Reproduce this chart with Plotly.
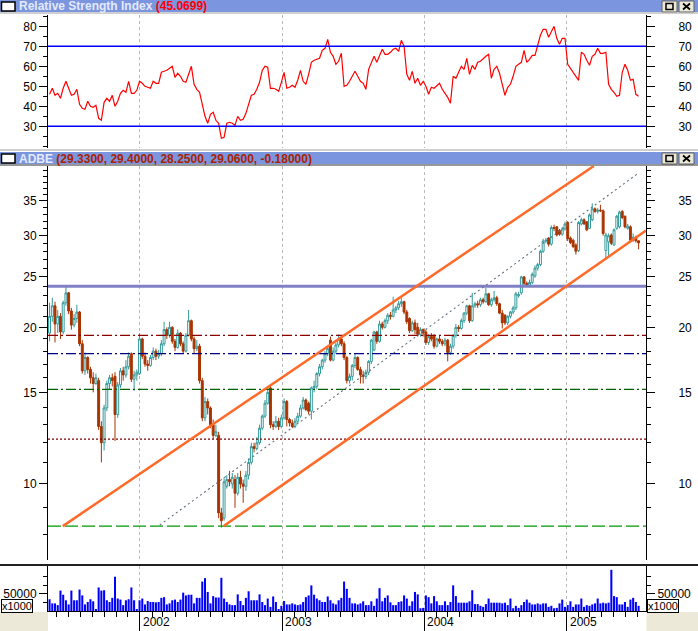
import math
import pandas as pd
import plotly.graph_objects as go

# ---------------- data (weekly ADBE) ----------------
week_start = "2001-05-14"

opens = [19.5,21.0,22.0,20.3,21.0,19.6,22.3,23.3,21.5,20.2,20.8,21.4,18.6,16.5,17.5,16.6,16.0,15.6,15.8,12.9,
         12.0,14.0,15.6,16.0,16.1,13.6,15.5,16.5,16.2,16.8,17.8,15.9,16.2,16.3,19.0,17.6,17.0,16.9,17.5,18.0,
         17.6,17.8,18.6,19.8,19.3,20.0,18.8,18.3,19.5,18.6,18.0,19.3,20.6,19.0,18.2,18.4,15.8,13.4,14.4,14.0,
         13.0,12.4,12.4,8.8,8.6,9.9,10.2,10.0,10.2,9.6,10.3,10.0,9.9,10.4,11.0,11.8,11.7,12.0,12.8,13.5,
         14.3,15.3,13.0,12.9,13.2,12.9,13.4,14.4,13.3,13.1,12.9,13.2,13.5,14.0,14.5,14.3,13.8,15.3,15.4,16.3,
         16.8,17.3,17.8,18.9,17.3,18.0,18.5,19.0,18.6,17.5,15.8,16.1,16.9,17.5,16.6,16.2,16.1,16.4,17.2,18.1,
         19.6,18.8,20.3,20.0,20.6,21.1,21.0,21.6,21.8,22.2,22.4,21.4,20.8,19.7,20.4,20.0,19.4,19.8,19.6,18.7,
         19.2,19.3,18.4,19.0,18.8,18.6,18.9,17.9,18.4,19.3,20.0,19.9,20.6,21.3,22.0,20.6,22.0,22.2,22.1,22.6,
         22.4,23.2,22.1,22.6,22.8,22.2,21.3,21.1,20.4,21.0,21.4,21.8,23.0,23.3,25.0,24.3,24.1,24.4,25.1,26.0,
         26.4,28.0,29.3,29.7,28.9,31.1,31.2,30.7,30.2,30.9,31.8,29.7,29.4,28.8,28.1,31.6,32.2,31.9,31.0,32.2,
         33.8,33.4,33.6,33.5,28.1,29.2,30.1,28.8,31.0,31.2,33.4,32.7,31.0,31.2,29.4,29.8,29.33]
highs = [22.3,22.8,22.4,21.6,21.3,22.5,24.0,23.4,21.8,21.2,22.1,21.5,18.9,17.9,17.6,16.8,16.4,16.3,16.0,13.2,
         14.2,15.8,16.2,16.3,16.4,15.7,16.7,16.8,17.3,17.9,17.9,16.5,16.6,19.5,19.1,17.9,17.3,17.7,18.3,18.2,
         18.1,18.9,20.5,20.0,20.5,20.1,19.0,19.8,19.6,18.8,19.5,21.6,20.7,19.2,18.9,18.6,16.0,14.7,14.6,14.1,
         13.3,13.0,12.6,9.0,10.3,10.4,10.6,10.5,10.4,10.5,10.6,10.2,10.6,11.2,12.0,12.0,12.3,13.0,13.6,14.5,
         15.4,15.4,13.2,13.5,13.4,13.6,14.6,14.5,13.4,13.3,13.4,13.7,14.2,14.7,14.6,14.4,15.4,15.8,16.4,17.0,
         17.4,18.0,18.5,19.2,18.3,18.7,19.4,19.2,18.8,17.6,16.3,17.0,17.8,17.6,16.8,16.5,16.6,17.3,19.0,19.7,
         19.7,20.6,20.5,20.8,21.3,21.4,22.9,22.0,22.5,22.8,22.5,21.6,20.9,20.6,20.7,20.4,20.0,19.9,19.8,19.4,
         19.5,19.4,19.1,19.3,19.0,19.1,19.0,18.6,19.4,20.3,20.2,20.8,21.4,22.1,22.1,23.3,22.4,22.5,22.8,22.8,
         23.8,23.3,22.8,23.5,23.0,22.3,21.6,21.2,21.1,21.5,22.0,23.4,23.4,25.1,25.1,24.5,24.7,25.5,26.3,26.6,
         28.2,29.6,29.7,29.8,31.4,31.5,31.3,30.9,31.2,31.9,32.0,29.9,29.6,29.0,32.0,32.5,32.4,32.0,33.1,34.6,
         34.0,33.9,34.4,33.7,30.4,30.3,30.3,31.0,32.9,33.5,33.6,32.8,31.6,31.4,30.3,30.0,29.40]
lows = [18.8,20.5,18.7,19.5,19.0,19.4,22.0,21.2,19.8,20.0,20.4,18.4,16.3,16.2,16.3,15.6,15.0,15.5,12.7,11.0,
        11.6,13.8,15.2,15.4,12.1,13.4,15.3,15.8,16.0,16.6,15.7,15.1,15.8,16.2,17.4,16.8,16.5,16.8,17.3,17.3,
        17.4,17.6,18.4,19.0,19.1,18.6,18.0,18.2,18.4,17.8,17.9,19.2,18.8,17.8,18.0,15.6,13.2,13.2,13.6,12.8,
        12.2,12.3,8.6,8.25,8.5,9.8,9.9,9.8,9.0,9.5,9.8,9.2,9.7,10.2,10.9,11.5,11.6,11.9,12.7,13.4,
        14.2,12.8,12.7,12.8,12.7,12.8,13.3,12.9,12.9,12.8,12.8,13.1,13.4,13.9,13.8,13.6,13.3,15.0,15.2,16.1,
        16.6,17.1,17.6,17.2,17.2,17.8,18.3,18.4,17.3,15.6,15.6,15.8,16.7,16.5,15.6,15.6,15.9,16.2,17.0,18.0,
        18.6,18.7,19.8,19.9,20.3,20.7,20.9,21.3,21.6,21.9,21.2,20.3,19.5,19.6,19.4,19.2,19.2,19.2,18.5,18.5,
        18.8,18.2,18.3,18.6,18.4,18.4,17.2,17.7,18.2,19.1,19.6,19.8,20.4,21.1,20.4,20.5,21.8,21.8,21.9,22.2,
        22.3,22.0,21.9,22.4,22.0,21.2,19.9,20.2,20.2,20.8,21.2,21.6,22.8,23.1,24.1,23.9,23.9,24.2,24.9,25.7,
        26.2,27.8,29.0,28.6,28.7,30.6,29.9,30.0,30.0,30.7,29.3,28.9,28.4,27.6,27.9,31.4,31.5,30.6,30.9,32.0,
        33.2,33.1,33.3,30.0,27.0,27.4,28.8,28.7,30.8,31.0,32.3,31.0,30.8,29.2,29.2,29.1,28.25]
closes = [21.0,22.0,20.3,21.0,19.6,22.3,23.3,21.5,20.2,20.8,21.4,18.6,16.5,17.5,16.6,16.0,15.6,16.0,12.9,12.0,
          14.0,15.6,16.0,15.8,13.6,15.5,16.5,16.2,16.8,17.6,15.9,16.2,16.4,19.0,17.6,17.0,16.9,17.5,18.0,17.6,
          17.8,18.6,19.8,19.3,20.0,18.8,18.3,19.5,18.6,18.0,19.3,20.6,19.0,18.2,18.4,15.8,13.4,14.4,14.0,13.0,
          12.4,12.6,8.8,8.5,10.1,10.2,10.1,10.3,9.6,10.3,10.0,9.9,10.4,11.0,11.8,11.7,12.0,12.8,13.5,14.3,
          15.0,13.0,12.9,13.2,12.9,13.4,14.4,13.3,13.1,12.9,13.2,13.5,14.0,14.5,13.9,13.8,15.3,15.4,16.3,16.8,
          17.3,17.8,18.2,17.3,18.0,18.5,19.0,18.6,17.5,15.8,16.1,16.9,17.5,16.6,16.2,16.1,16.4,17.2,18.9,19.6,
          18.8,20.3,20.0,20.6,21.1,21.0,21.6,21.8,22.2,22.4,21.4,20.5,19.7,20.4,19.8,19.4,19.8,19.5,18.7,19.2,
          19.0,18.4,19.0,18.8,18.6,18.9,17.9,18.4,19.3,20.0,19.9,20.6,21.3,22.0,20.6,22.0,22.2,22.1,22.6,22.4,
          23.2,22.1,22.6,22.8,22.2,21.3,20.4,20.4,21.0,21.4,21.8,23.2,23.1,25.0,24.3,24.1,24.4,25.3,26.0,26.4,
          28.0,29.3,29.4,28.9,31.1,31.0,30.1,30.2,30.9,31.6,29.6,29.1,28.6,28.0,31.8,32.2,31.6,30.8,32.9,33.8,
          33.4,33.6,33.5,30.3,30.1,30.0,29.0,30.8,32.7,33.3,32.5,31.2,31.3,29.4,29.8,29.33,29.06]

rsi = [46,49,45.5,46.5,44,49,52.5,49,45.5,46,48.5,41,39,38.5,42.5,40,39.5,40.5,34,33,
       42,44,42.5,45.5,40,42.5,46.5,48,47,52.5,46.5,46.5,48,52.5,51.5,50,49.5,49,52.5,51.5,
       51.5,57,57.5,58,59,60,54.5,56.5,55,52.5,52,56,60,51,48.5,47,41,35,31.5,36,
       37,33,31.5,24,24.5,31.5,32,31.5,30.5,35,33,33.5,36.5,41,45.5,46,48.5,52,58,60,
       59.5,49,49,48.5,47.5,52,57,49,49.5,50.5,49.5,53,58,52.5,51,56,62,63,63.5,64,
       68,69,73.5,67,65,61,62.5,66.5,50,50.5,52.5,55,57.5,55,52.5,51.5,48.5,58.5,62,65,
       62,65,68.5,66,66,67,68.5,69,67.5,73,70,56,53,57.5,51.5,54,50.5,52.5,50,46,
       49.5,49,50.5,51.5,48.5,46.5,44.5,41.5,55,54,57,60,58.5,64,56,60.5,58.5,62,62.5,64,
       65,66,54,58.5,60,56.5,51,45.5,49.5,51,55,60,61,62,68,62,63.5,65.5,65.5,70,
       75.5,78.5,78.5,74.5,77,80,74,71,74,74,61,59,57,55.5,53,67,66,63,60.5,65,
       66,69,66.5,66.5,67,51,48.5,47,45,45.5,57,61,58,53,53.5,46,45.07]

volume_k = [34,22,22,17,59,47,31,19,59,31,31,62,45,19,26,34,28,4,68,59,
            60,31,26,38,99,36,33,17,31,34,68,31,3,31,36,19,29,26,26,25,
            26,38,40,19,22,31,33,26,33,53,45,47,47,22,38,38,85,95,55,22,
            43,39,39,96,36,26,19,17,17,48,29,17,38,57,31,31,31,48,26,17,
            36,12,42,26,3,15,29,19,19,22,19,17,19,26,40,45,74,47,36,31,
            26,26,42,31,22,19,31,38,85,64,38,22,22,19,22,28,17,17,28,15,
            36,66,28,38,45,25,17,17,26,28,45,36,15,28,55,48,8,9,45,40,
            22,43,28,17,17,28,17,26,74,43,24,24,24,24,28,60,20,20,15,12,
            20,36,24,24,24,24,22,24,17,36,8,15,9,17,26,33,24,19,19,22,
            19,22,22,12,15,8,9,22,33,12,17,28,12,19,19,36,12,17,15,19,
            22,36,22,24,22,24,119,43,40,19,19,26,12,33,38,26,15]

rsi_title_value = "45.0699"
price_title = "(29.3300, 29.4000, 28.2500, 29.0600, -0.18000)"

x_range = ["2001-05-10", "2005-07-23"]
year_starts = ["2002-01-01", "2003-01-01", "2004-01-01", "2005-01-01"]
year_labels = ["2002", "2003", "2004", "2005"]

rsi_levels = [70, 30]
rsi_range = [19.15, 85.65]
rsi_ticks = [30, 40, 50, 60, 70, 80]
rsi_minor = [20, 25, 35, 45, 55, 65, 75, 85]

price_bounds = [7.144, 40.84]
price_ticks = [10, 15, 20, 25, 30, 35]
price_minor = [8, 9, 11, 12, 13, 14, 16, 17, 18, 19, 21, 22, 23, 24, 26, 27, 28, 29, 31, 32, 33, 34, 36, 37, 38, 39, 40]

vol_range = [0, 130000]
vol_ticks = [50000]
vol_minor = [25000, 75000, 100000]

# horizontal levels: value, colour, dash, width
levels = [
    (24.0, "#7f80c6", "solid", 3),
    (19.3, "#8b0000", "10px,3px,2px,3px", 1.2),
    (17.8, "#000080", "10px,3px,2px,3px", 1.2),
    (15.2, "#006400", "10px,3px,2px,3px", 1.2),
    (12.2, "#800000", "2px,2px", 1.2),
    (8.3, "#009900", "13px,4px", 1.2),
]
upper_channel_dates = ["2001-06-17", "2005-03-11"]
upper_channel_prices = [8.3, 40.84]
lower_channel_dates = ["2002-08-04", "2005-07-23"]
lower_channel_prices = [8.3, 30.7]
mid_line_dates = ["2002-02-21", "2005-06-30"]
mid_line_prices = [8.34, 39.4]

dates = pd.date_range(week_start, periods=len(closes), freq="7D")
volume = [v * 1000 for v in volume_k]

# ---------------- geometry helpers ----------------
W, H = 698, 631
ML, MR, MT, MB = 48, 52, 0, 20
PW, PH = W - ML - MR, H - MT - MB


def px_x(px):
    return (px - ML) / PW


def px_y(py):
    return 1 - (py - MT) / PH


FONT = "Liberation Sans, Arial, sans-serif"
BAR = "#7b96de"
BEIGE = "#ece9d8"

fig = go.Figure()

# RSI
fig.add_trace(go.Scatter(x=dates, y=rsi, mode="lines", line=dict(color="#ff0000", width=1.2),
                         xaxis="x", yaxis="y", hoverinfo="skip", showlegend=False))
for lv in rsi_levels:
    fig.add_trace(go.Scatter(x=x_range, y=[lv, lv], mode="lines", line=dict(color="#0000ff", width=1.5),
                             xaxis="x", yaxis="y", hoverinfo="skip", showlegend=False))

# price candles
fig.add_trace(go.Candlestick(
    x=dates, open=opens, high=highs, low=lows, close=closes, xaxis="x", yaxis="y2",
    increasing=dict(line=dict(color="#339999", width=1), fillcolor="#ffffff"),
    decreasing=dict(line=dict(color="#aa3300", width=1), fillcolor="#aa3300"),
    whiskerwidth=0, showlegend=False, hoverinfo="skip"))

for val, col, dash, wd in levels:
    fig.add_trace(go.Scatter(x=x_range, y=[val, val], mode="lines", line=dict(color=col, width=wd, dash=dash),
                             xaxis="x", yaxis="y2", hoverinfo="skip", showlegend=False))

fig.add_trace(go.Scatter(x=mid_line_dates, y=mid_line_prices, mode="lines",
                         line=dict(color="#607080", width=1.1, dash="2px,3px"),
                         xaxis="x", yaxis="y2", hoverinfo="skip", showlegend=False))
for dd, pp in [(upper_channel_dates, upper_channel_prices), (lower_channel_dates, lower_channel_prices)]:
    fig.add_trace(go.Scatter(x=dd, y=pp, mode="lines", line=dict(color="#ff6a28", width=2.5),
                             xaxis="x", yaxis="y2", hoverinfo="skip", showlegend=False))

# volume
fig.add_trace(go.Bar(x=dates, y=volume, marker=dict(color="#0000ff", line=dict(width=0)),
                     xaxis="x", yaxis="y3", hoverinfo="skip", showlegend=False))

# dummy traces for right-hand label axes
for ax, v in [("y4", 50), ("y5", 20), ("y6", 0)]:
    fig.add_trace(go.Scatter(x=[dates[0]], y=[v], mode="markers", marker=dict(opacity=0),
                             xaxis="x", yaxis=ax, hoverinfo="skip", showlegend=False))

tickfont = dict(family=FONT, size=12, color="#000000")


def yax(**kw):
    base = dict(showgrid=False, zeroline=False, showline=True, linecolor="#000000", linewidth=1,
                ticks="outside", ticklen=8, tickcolor="#000000", tickwidth=1, tickfont=tickfont,
                fixedrange=True, automargin=False)
    base.update(kw)
    return base


rsi_dom = [px_y(148), px_y(15)]
price_dom = [px_y(560), px_y(166)]
vol_dom = [0, px_y(566)]
price_range = [math.log10(price_bounds[0]), math.log10(price_bounds[1])]
minor_y = lambda vals: dict(tickmode="array", tickvals=vals, ticks="outside", ticklen=4, tickcolor="#000000", showgrid=False)

fig.update_layout(
    width=W, height=H, margin=dict(l=ML, r=MR, t=MT, b=MB, autoexpand=False),
    paper_bgcolor="#ffffff", plot_bgcolor="#ffffff", hovermode=False, showlegend=False,
    bargap=0.25, boxgap=0.0,
    xaxis=dict(domain=[0, 1], anchor="y3", type="date", range=x_range,
               tickmode="array", tickvals=year_starts, showticklabels=False,
               ticks="outside", ticklen=20, tickcolor="#000000", tickwidth=1,
               showgrid=True, gridcolor="#b8b8b8", griddash="3px,3px", gridwidth=1,
               showline=True, linecolor="#000000", linewidth=1, zeroline=False,
               rangeslider=dict(visible=False), fixedrange=True, automargin=False,
               minor=dict(ticks="outside", ticklen=5, dtick="M1", tick0="2001-01-01",
                          tickcolor="#000000", showgrid=False)),
    yaxis=yax(domain=rsi_dom, range=rsi_range, anchor="x", side="left",
              tickmode="array", tickvals=rsi_ticks, minor=minor_y(rsi_minor)),
    yaxis4=yax(range=rsi_range, overlaying="y", anchor="x", side="right",
               tickmode="array", tickvals=rsi_ticks, minor=minor_y(rsi_minor), ticklabelstandoff=21),
    yaxis2=yax(domain=price_dom, type="log", range=price_range, anchor="x", side="left",
               tickmode="array", tickvals=price_ticks, ticktext=[str(t) for t in price_ticks],
               minor=minor_y(price_minor)),
    yaxis5=yax(type="log", range=price_range, overlaying="y2", anchor="x", side="right",
               tickmode="array", tickvals=price_ticks, ticktext=[str(t) for t in price_ticks],
               minor=minor_y(price_minor), ticklabelstandoff=21),
    yaxis3=yax(domain=vol_dom, range=vol_range, anchor="x", side="left",
               tickmode="array", tickvals=vol_ticks, ticktext=[str(t) for t in vol_ticks],
               minor=minor_y(vol_minor)),
    yaxis6=yax(range=vol_range, overlaying="y3", anchor="x", side="right",
               tickmode="array", tickvals=vol_ticks, ticktext=[str(t) for t in vol_ticks],
               minor=minor_y(vol_minor)),
)

shapes = []


def rect(x0, y0, x1, y1, fill, line_color=None, lw=0):
    shapes.append(dict(type="rect", xref="paper", yref="paper", x0=px_x(x0), x1=px_x(x1),
                       y0=px_y(y1), y1=px_y(y0), fillcolor=fill,
                       line=dict(color=line_color or fill, width=lw), layer="above"))


def hline(x0, x1, y, color, w):
    shapes.append(dict(type="line", xref="paper", yref="paper", x0=px_x(x0), x1=px_x(x1),
                       y0=px_y(y), y1=px_y(y), line=dict(color=color, width=w), layer="above"))


def seg(x0, y0, x1, y1, color, w):
    shapes.append(dict(type="line", xref="paper", yref="paper", x0=px_x(x0), x1=px_x(x1),
                       y0=px_y(y0), y1=px_y(y1), line=dict(color=color, width=w), layer="above"))


# title bars
for top in (0, 152):
    rect(0, top, 698, top + 12, BAR)
    rect(1.5, top + 2, 15, top + 11, "#ffffff", "#000000", 1.5)
    rect(662, top + 1, 677, top + 12, BEIGE, "#606060", 1)
    rect(679, top + 1, 694, top + 12, BEIGE, "#606060", 1)
    rect(666, top + 3.5, 673, top + 9.5, "rgba(0,0,0,0)", "#000000", 1.5)
    seg(683, top + 3.5, 690, top + 9.5, "#000000", 1.8)
    seg(683, top + 9.5, 690, top + 3.5, "#000000", 1.8)
hline(0, 698, 13, "#a0a0a0", 1)
hline(0, 698, 150, "#a0a0a0", 1)
hline(0, 698, 165, "#303030", 1)
hline(0, 698, 565, "#202020", 2)
# bottom corners
rect(0, 612, 48, 631, BEIGE)
rect(646.5, 612, 698, 631, BEIGE)
fig.update_layout(shapes=shapes)

ann = []
ann.append(dict(xref="paper", yref="paper", x=px_x(17), y=px_y(6.5), xanchor="left", yanchor="middle",
                showarrow=False, font=dict(family=FONT, size=12),
                text="<b><span style='color:#e4eaff'>Relative Strength Index</span> "
                     "<span style='color:#ff0000'>(" + rsi_title_value + ")</span></b>"))
ann.append(dict(xref="paper", yref="paper", x=px_x(17), y=px_y(158.5), xanchor="left", yanchor="middle",
                showarrow=False, font=dict(family=FONT, size=12),
                text="<b><span style='color:#e4eaff'>ADBE</span> "
                     "<span style='color:#aa2200'>" + price_title + "</span></b>"))
for d, lab in zip(year_starts, year_labels):
    ann.append(dict(xref="x", yref="paper", x=d, y=px_y(621.5), xanchor="left", yanchor="middle",
                    xshift=1, showarrow=False, text=lab, font=dict(family=FONT, size=12, color="#000000")))
for xl in (0.5, 647):
    ann.append(dict(xref="paper", yref="paper", x=px_x(xl), y=px_y(605.5), xanchor="left", yanchor="middle",
                    showarrow=False, text="x1000", font=dict(family=FONT, size=11, color="#000000"),
                    bgcolor="#ffffff", bordercolor="#000000", borderwidth=1, borderpad=0))
fig.update_layout(annotations=ann)

fig.write_html("out.html", config={"displayModeBar": False},
               post_script="document.body.style.margin='0';document.body.style.overflow='hidden';")
